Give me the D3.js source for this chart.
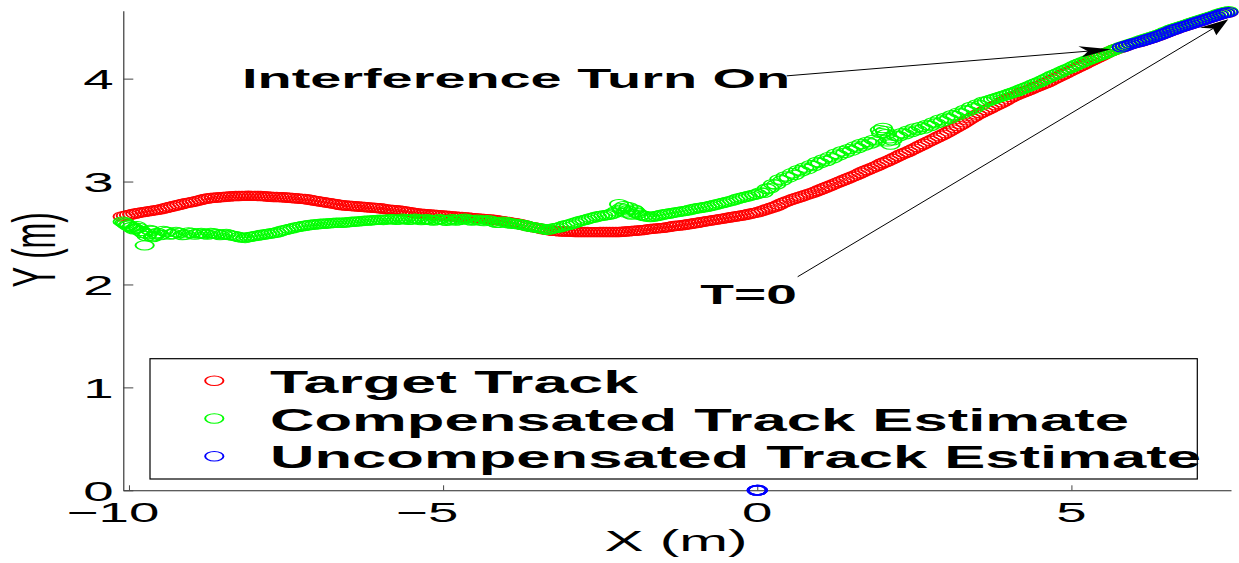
<!DOCTYPE html>
<html>
<head>
<meta charset="utf-8">
<script src="https://cdn.jsdelivr.net/npm/d3@7"></script>
<style>
  body { margin: 0; background: #fff; }
  svg { display: block; }
  text { font-family: "Liberation Sans", Arial, Helvetica, sans-serif; fill: #000; }
</style>
</head>
<body>
<svg id="chart" width="1239" height="563"></svg>
<script>
// ---- Track data (X, Y in metres) ----
const targetTrack = [
  [-10.1,2.66],[-10.05,2.667],[-10.0,2.675],[-9.95,2.682],[-9.9,2.69],[-9.85,2.695],[-9.8,2.70],[-9.75,2.705],[-9.7,2.71],[-9.65,2.715],
  [-9.6,2.72],[-9.55,2.725],[-9.5,2.73],[-9.45,2.737],[-9.4,2.745],[-9.35,2.752],[-9.3,2.76],[-9.25,2.767],[-9.2,2.775],[-9.15,2.782],
  [-9.1,2.79],[-9.05,2.795],[-9.0,2.80],[-8.95,2.807],[-8.9,2.815],[-8.85,2.822],[-8.8,2.83],[-8.75,2.835],[-8.7,2.84],[-8.65,2.843],
  [-8.6,2.845],[-8.55,2.848],[-8.5,2.85],[-8.45,2.853],[-8.4,2.855],[-8.35,2.858],[-8.3,2.86],[-8.25,2.86],[-8.2,2.861],[-8.15,2.861],
  [-8.1,2.862],[-8.05,2.861],[-8.0,2.861],[-7.95,2.86],[-7.9,2.86],[-7.85,2.858],[-7.8,2.855],[-7.75,2.852],[-7.7,2.85],[-7.65,2.85],
  [-7.6,2.849],[-7.55,2.847],[-7.5,2.845],[-7.45,2.842],[-7.4,2.84],[-7.35,2.837],[-7.3,2.835],[-7.25,2.832],[-7.2,2.83],[-7.15,2.825],
  [-7.1,2.82],[-7.05,2.815],[-7.0,2.81],[-6.95,2.805],[-6.9,2.80],[-6.85,2.795],[-6.8,2.79],[-6.75,2.785],[-6.7,2.78],[-6.65,2.775],
  [-6.6,2.77],[-6.55,2.767],[-6.5,2.765],[-6.45,2.762],[-6.4,2.76],[-6.35,2.757],[-6.3,2.755],[-6.25,2.752],[-6.2,2.75],[-6.15,2.747],
  [-6.1,2.745],[-6.05,2.742],[-6.0,2.74],[-5.95,2.735],[-5.9,2.73],[-5.85,2.727],[-5.8,2.725],[-5.75,2.722],[-5.7,2.72],[-5.65,2.715],
  [-5.6,2.71],[-5.55,2.705],[-5.5,2.70],[-5.45,2.695],[-5.4,2.69],[-5.35,2.687],[-5.3,2.685],[-5.25,2.682],[-5.2,2.68],[-5.15,2.677],
  [-5.1,2.675],[-5.05,2.672],[-5.0,2.67],[-4.95,2.667],[-4.9,2.665],[-4.85,2.662],[-4.8,2.66],[-4.75,2.657],[-4.7,2.655],[-4.65,2.652],
  [-4.6,2.65],[-4.55,2.647],[-4.5,2.645],[-4.45,2.642],[-4.4,2.64],[-4.35,2.637],[-4.3,2.635],[-4.25,2.632],[-4.2,2.63],[-4.15,2.625],
  [-4.1,2.62],[-4.05,2.615],[-4.0,2.61],[-3.95,2.605],[-3.9,2.60],[-3.85,2.595],[-3.8,2.59],[-3.75,2.582],[-3.7,2.575],[-3.65,2.567],
  [-3.6,2.56],[-3.55,2.555],[-3.5,2.55],[-3.45,2.542],[-3.4,2.535],[-3.35,2.53],[-3.3,2.525],[-3.25,2.522],[-3.2,2.52],[-3.15,2.517],
  [-3.1,2.515],[-3.05,2.515],[-3.0,2.515],[-2.95,2.512],[-2.9,2.51],[-2.85,2.51],[-2.8,2.51],[-2.75,2.51],[-2.7,2.51],[-2.65,2.509],
  [-2.6,2.509],[-2.55,2.509],[-2.5,2.51],[-2.45,2.51],[-2.4,2.51],[-2.35,2.51],[-2.3,2.51],[-2.25,2.51],[-2.2,2.51],[-2.15,2.512],
  [-2.1,2.515],[-2.05,2.517],[-2.0,2.52],[-1.95,2.522],[-1.9,2.525],[-1.85,2.527],[-1.8,2.53],[-1.75,2.535],[-1.7,2.54],[-1.65,2.542],
  [-1.6,2.545],[-1.55,2.547],[-1.5,2.55],[-1.45,2.555],[-1.4,2.56],[-1.35,2.565],[-1.3,2.57],[-1.25,2.572],[-1.2,2.575],[-1.15,2.58],
  [-1.1,2.585],[-1.05,2.59],[-1.0,2.595],[-0.95,2.60],[-0.9,2.605],[-0.85,2.61],[-0.8,2.615],[-0.75,2.62],[-0.7,2.625],[-0.65,2.63],
  [-0.6,2.635],[-0.55,2.64],[-0.5,2.645],[-0.45,2.65],[-0.4,2.655],[-0.35,2.66],[-0.3,2.665],[-0.25,2.67],[-0.2,2.675],[-0.15,2.682],
  [-0.1,2.69],[-0.05,2.695],[0.0,2.70],[0.05,2.71],[0.1,2.72],[0.15,2.73],[0.2,2.74],[0.25,2.75],[0.3,2.76],[0.35,2.775],
  [0.4,2.79],[0.45,2.802],[0.5,2.815],[0.55,2.825],[0.6,2.835],[0.65,2.845],[0.7,2.855],[0.75,2.865],[0.8,2.875],[0.85,2.885],
  [0.9,2.895],[0.95,2.907],[1.0,2.92],[1.05,2.932],[1.1,2.945],[1.15,2.957],[1.2,2.97],[1.25,2.982],[1.3,2.995],[1.35,3.007],
  [1.4,3.02],[1.45,3.032],[1.5,3.045],[1.55,3.057],[1.6,3.07],[1.65,3.085],[1.7,3.10],[1.75,3.112],[1.8,3.125],[1.85,3.137],
  [1.9,3.15],[1.95,3.165],[2.0,3.18],[2.05,3.192],[2.1,3.205],[2.15,3.22],[2.2,3.235],[2.25,3.25],[2.3,3.265],[2.35,3.277],
  [2.4,3.29],[2.45,3.305],[2.5,3.32],[2.55,3.335],[2.6,3.35],[2.65,3.365],[2.7,3.38],[2.75,3.395],[2.8,3.41],[2.85,3.425],
  [2.9,3.44],[2.95,3.455],[3.0,3.47],[3.05,3.487],[3.1,3.505],[3.15,3.522],[3.2,3.54],[3.25,3.557],[3.3,3.575],[3.35,3.595],
  [3.4,3.615],[3.45,3.632],[3.5,3.65],[3.55,3.665],[3.6,3.68],[3.65,3.695],[3.7,3.71],[3.75,3.725],[3.8,3.74],[3.85,3.755],
  [3.9,3.77],[3.95,3.787],[4.0,3.805],[4.05,3.82],[4.1,3.835],[4.15,3.847],[4.2,3.86],[4.25,3.872],[4.3,3.885],[4.35,3.897],
  [4.4,3.91],[4.45,3.922],[4.5,3.935],[4.55,3.947],[4.6,3.96],[4.65,3.975],[4.7,3.99],[4.75,4.005],[4.8,4.02],[4.85,4.035],
  [4.9,4.05],[4.95,4.065],[5.0,4.08],[5.05,4.095],[5.1,4.11],[5.15,4.125],[5.2,4.14],[5.25,4.155],[5.3,4.17],[5.35,4.185],
  [5.4,4.20],[5.45,4.215],[5.5,4.23],[5.55,4.245],[5.6,4.26],[5.65,4.272],[5.7,4.285],[5.75,4.295],[5.8,4.305],[5.85,4.315],
  [5.9,4.325],[5.95,4.335],[6.0,4.345],[6.05,4.352],[6.1,4.36],[6.15,4.37],[6.2,4.38],[6.25,4.39],[6.3,4.40],[6.35,4.41],
  [6.4,4.42],[6.45,4.432],[6.5,4.445],[6.55,4.457],[6.6,4.47],[6.65,4.48],[6.7,4.49],[6.75,4.50],[6.8,4.51],[6.85,4.52],
  [6.9,4.53],[6.95,4.54],[7.0,4.55],[7.05,4.56],[7.1,4.57],[7.15,4.58],[7.2,4.59],[7.25,4.60],[7.3,4.61],[7.35,4.62],
  [7.4,4.63],[7.45,4.638],[7.5,4.645]
];

const compensatedTrack = [
  [-10.1,2.61],[-10.07,2.60],[-10.05,2.59],[-10.02,2.575],[-10.0,2.57],[-9.97,2.555],[-9.95,2.56],[-9.92,2.535],[-9.9,2.54],[-9.87,2.565],
  [-9.85,2.55],[-9.82,2.52],[-9.8,2.52],[-9.77,2.50],[-9.75,2.38],[-9.72,2.47],[-9.7,2.49],[-9.67,2.53],[-9.65,2.52],[-9.62,2.46],
  [-9.6,2.47],[-9.57,2.49],[-9.55,2.50],[-9.5,2.48],[-9.45,2.52],[-9.4,2.51],[-9.35,2.485],[-9.3,2.49],[-9.25,2.51],[-9.2,2.50],
  [-9.15,2.48],[-9.1,2.485],[-9.05,2.505],[-9.0,2.50],[-8.95,2.485],[-8.9,2.495],[-8.85,2.50],[-8.8,2.49],[-8.75,2.485],[-8.7,2.50],
  [-8.65,2.495],[-8.6,2.49],[-8.55,2.48],[-8.5,2.485],[-8.45,2.49],[-8.4,2.48],[-8.35,2.475],[-8.3,2.47],[-8.25,2.46],[-8.2,2.455],
  [-8.15,2.452],[-8.1,2.46],[-8.05,2.465],[-8.0,2.47],[-7.95,2.475],[-7.9,2.48],[-7.85,2.485],[-7.8,2.49],[-7.75,2.495],[-7.7,2.50],
  [-7.65,2.505],[-7.6,2.515],[-7.55,2.525],[-7.5,2.53],[-7.45,2.54],[-7.4,2.545],[-7.35,2.555],[-7.3,2.56],[-7.25,2.565],[-7.2,2.57],
  [-7.15,2.575],[-7.1,2.58],[-7.05,2.582],[-7.0,2.585],[-6.95,2.59],[-6.9,2.59],[-6.85,2.593],[-6.8,2.595],[-6.75,2.598],[-6.7,2.60],
  [-6.65,2.60],[-6.6,2.60],[-6.55,2.603],[-6.5,2.605],[-6.45,2.61],[-6.4,2.61],[-6.35,2.613],[-6.3,2.615],[-6.25,2.62],[-6.2,2.62],
  [-6.15,2.622],[-6.1,2.625],[-6.05,2.628],[-6.0,2.63],[-5.95,2.627],[-5.9,2.63],[-5.85,2.635],[-5.8,2.635],[-5.75,2.628],[-5.7,2.63],
  [-5.65,2.638],[-5.6,2.635],[-5.55,2.628],[-5.5,2.63],[-5.45,2.64],[-5.4,2.635],[-5.35,2.625],[-5.3,2.63],[-5.25,2.635],[-5.2,2.625],
  [-5.15,2.62],[-5.1,2.63],[-5.05,2.635],[-5.0,2.625],[-4.95,2.618],[-4.9,2.63],[-4.85,2.635],[-4.8,2.62],[-4.75,2.625],[-4.7,2.635],
  [-4.65,2.64],[-4.6,2.63],[-4.55,2.62],[-4.5,2.625],[-4.45,2.63],[-4.4,2.62],[-4.35,2.615],[-4.3,2.625],[-4.25,2.62],[-4.2,2.61],
  [-4.15,2.60],[-4.1,2.60],[-4.05,2.61],[-4.0,2.605],[-3.95,2.595],[-3.9,2.59],[-3.85,2.59],[-3.8,2.585],[-3.75,2.58],[-3.7,2.575],
  [-3.65,2.565],[-3.6,2.56],[-3.55,2.555],[-3.5,2.55],[-3.45,2.545],[-3.4,2.54],[-3.35,2.53],[-3.3,2.535],[-3.25,2.545],[-3.2,2.55],
  [-3.15,2.555],[-3.1,2.565],[-3.05,2.575],[-3.0,2.58],[-2.95,2.59],[-2.9,2.60],[-2.85,2.61],[-2.8,2.62],[-2.75,2.625],[-2.7,2.635],
  [-2.65,2.645],[-2.6,2.65],[-2.55,2.66],[-2.5,2.665],[-2.45,2.67],[-2.4,2.675],[-2.35,2.68],[-2.3,2.69],[-2.25,2.71],[-2.2,2.78],
  [-2.17,2.74],[-2.15,2.73],[-2.12,2.76],[-2.1,2.70],[-2.07,2.72],[-2.05,2.75],[-2.02,2.69],[-2.0,2.68],[-1.97,2.73],[-1.95,2.72],
  [-1.92,2.70],[-1.9,2.69],[-1.85,2.675],[-1.8,2.665],[-1.75,2.66],[-1.7,2.655],[-1.65,2.66],[-1.6,2.665],[-1.55,2.672],[-1.5,2.68],
  [-1.45,2.685],[-1.4,2.69],[-1.35,2.695],[-1.3,2.70],[-1.25,2.705],[-1.2,2.71],[-1.15,2.715],[-1.1,2.72],[-1.05,2.728],[-1.0,2.735],
  [-0.95,2.74],[-0.9,2.745],[-0.85,2.75],[-0.8,2.755],[-0.75,2.762],[-0.7,2.77],[-0.65,2.777],[-0.6,2.785],[-0.55,2.792],[-0.5,2.80],
  [-0.45,2.807],[-0.4,2.815],[-0.35,2.825],[-0.3,2.835],[-0.25,2.842],[-0.2,2.85],[-0.15,2.857],[-0.1,2.865],[-0.05,2.872],[0.0,2.88],
  [0.05,2.895],[0.1,2.89],[0.15,2.93],[0.2,2.935],[0.25,2.975],[0.3,2.97],[0.35,3.02],[0.4,3.01],[0.45,3.05],[0.5,3.04],
  [0.55,3.08],[0.6,3.065],[0.65,3.11],[0.7,3.10],[0.75,3.135],[0.8,3.12],[0.85,3.16],[0.9,3.15],[0.95,3.19],[1.0,3.18],
  [1.05,3.215],[1.1,3.20],[1.15,3.24],[1.2,3.225],[1.25,3.27],[1.3,3.255],[1.35,3.295],[1.4,3.28],[1.45,3.315],[1.5,3.30],
  [1.55,3.34],[1.6,3.325],[1.65,3.365],[1.7,3.35],[1.75,3.385],[1.8,3.37],[1.85,3.405],[1.9,3.39],[1.95,3.50],[1.97,3.47],
  [2.0,3.52],[2.03,3.49],[2.05,3.46],[2.07,3.39],[2.1,3.42],[2.12,3.36],[2.15,3.40],[2.2,3.445],[2.25,3.44],[2.3,3.47],
  [2.35,3.46],[2.4,3.495],[2.45,3.48],[2.5,3.515],[2.55,3.50],[2.6,3.53],[2.65,3.515],[2.7,3.55],[2.75,3.54],[2.8,3.575],
  [2.85,3.565],[2.9,3.60],[2.95,3.585],[3.0,3.62],[3.05,3.61],[3.1,3.645],[3.15,3.635],[3.2,3.67],[3.25,3.66],[3.3,3.695],
  [3.35,3.685],[3.4,3.725],[3.45,3.71],[3.5,3.75],[3.55,3.74],[3.6,3.775],[3.65,3.777],[3.7,3.79],[3.75,3.80],[3.8,3.81],
  [3.85,3.82],[3.9,3.83],[3.95,3.84],[4.0,3.85],[4.05,3.86],[4.1,3.87],[4.15,3.882],[4.2,3.895],[4.25,3.907],[4.3,3.92],
  [4.35,3.932],[4.4,3.945],[4.45,3.957],[4.5,3.97],[4.55,3.985],[4.6,4.00],[4.65,4.015],[4.7,4.03],[4.75,4.042],[4.8,4.055],
  [4.85,4.07],[4.9,4.085],[4.95,4.097],[5.0,4.11],[5.05,4.125],[5.1,4.14],[5.15,4.152],[5.2,4.165],[5.25,4.177],[5.3,4.19],
  [5.35,4.202],[5.4,4.215],[5.45,4.225],[5.5,4.235],[5.55,4.247],[5.6,4.26],[5.65,4.272],[5.7,4.285],[5.75,4.297],[5.8,4.31],
  [5.85,4.32],[5.9,4.33],[5.95,4.34],[6.0,4.35],[6.05,4.36],[6.1,4.37],[6.15,4.38],[6.2,4.39],[6.25,4.40],[6.3,4.41],
  [6.35,4.42],[6.4,4.43],[6.45,4.442],[6.5,4.455],[6.55,4.467],[6.6,4.48],[6.65,4.49],[6.7,4.50],[6.75,4.51],[6.8,4.52],
  [6.85,4.53],[6.9,4.54],[6.95,4.55],[7.0,4.56],[7.05,4.57],[7.1,4.58],[7.15,4.59],[7.2,4.60],[7.25,4.61],[7.3,4.62],
  [7.35,4.63],[7.4,4.64],[7.45,4.648],[7.5,4.655]
];

const uncompensatedTrack = [
  [0,0],[0,0],[0,0],
  [5.8,4.305],[5.85,4.315],[5.9,4.325],[5.95,4.335],[6.0,4.345],[6.05,4.352],[6.1,4.36],[6.15,4.37],[6.2,4.38],[6.25,4.39],
  [6.3,4.40],[6.35,4.41],[6.4,4.42],[6.45,4.432],[6.5,4.445],[6.55,4.457],[6.6,4.47],[6.65,4.48],[6.7,4.49],[6.75,4.50],
  [6.8,4.51],[6.85,4.52],[6.9,4.53],[6.95,4.54],[7.0,4.55],[7.05,4.56],[7.1,4.57],[7.15,4.58],[7.2,4.59],[7.25,4.60],
  [7.3,4.61],[7.35,4.62],[7.4,4.63],[7.45,4.638],[7.5,4.645]
];

const seriesNames = ["Target Track", "Compensated Track Estimate", "Uncompensated Track Estimate"];
const seriesColors = ["#ff0000", "#00ff00", "#0000ff"];
const xTicks = [-10, -5, 0, 5];
const yTicks = [0, 1, 2, 3, 4];
const xLabel = "X (m)";
const yLabel = "Y (m)";

// annotation text anchors and arrows, in data units
const annotations = [
  { text: "Interference Turn On", at: [-8.2, 3.906], from: [0.468, 4.027], to: [5.63, 4.285] },
  { text: "T=0", at: [-0.906, 1.81], from: [0.643, 2.075], to: [7.497, 4.576] }
];

// ---- Layout ----
const SX = 1.95;            // the figure is stretched horizontally
const svg = d3.select("#chart");
const x = d3.scaleLinear().domain([-10.09, 7.54]).range([123.3, 1231]);
const y = d3.scaleLinear().domain([0, 4.66]).range([490.3, 10.7]);
const axisColor = "#262626";

// stretched text helper; len = rendered width in page pixels
function sText(parent, px, py, str, opts) {
  const g = parent.append("g").attr("transform", `translate(${px},${py}) scale(${SX},1)` + (opts.rotate ? ` rotate(${opts.rotate})` : ""));
  const t = g.append("text")
    .attr("x", opts.dx || 0)
    .attr("text-anchor", opts.anchor || "start")
    .attr("font-size", opts.size)
    .attr("font-weight", opts.bold ? "bold" : "normal")
    .text(str);
  if (opts.len) t.attr("textLength", opts.len / SX).attr("lengthAdjust", "spacingAndGlyphs");
  return t;
}

// ---- Axes ----
const gx = svg.append("g")
  .attr("transform", `translate(0,${y(0)})`)
  .call(d3.axisBottom(x).tickValues(xTicks).tickSizeInner(-5).tickSizeOuter(0).tickFormat(""));
const gy = svg.append("g")
  .attr("transform", `translate(${x.range()[0]},0)`)
  .call(d3.axisLeft(y).tickValues(yTicks).tickSizeInner(-10).tickSizeOuter(0).tickFormat(""));
[gx, gy].forEach(g => {
  g.select(".domain").attr("stroke", axisColor).attr("stroke-width", 1.1);
  g.selectAll(".tick line").attr("stroke", "#444").attr("stroke-width", 1);
});

const tickFont = 28;
xTicks.forEach(v => {
  const digits = String(Math.abs(v)).length;
  const label = (v < 0 ? "\u2212" : "") + Math.abs(v);
  // digits centred on the tick, minus sign hanging to the left
  sText(svg, x(v), y(0) + 31.4, label, { size: tickFont, anchor: "end", dx: digits * 0.556 * tickFont / 2 });
});
yTicks.forEach(v => {
  sText(svg, 113.5, y(v) + 10.5, String(v), { size: tickFont, anchor: "end" });
});

sText(svg, 676, 550.7, xLabel, { size: 30, anchor: "middle" });
sText(svg, 55, 250, yLabel, { size: 31, anchor: "middle", rotate: -90 });

// ---- Tracks (circle markers, stretched with the figure) ----
const markR = 4.7;
const tracks = [targetTrack, compensatedTrack, uncompensatedTrack];
const markLayer = svg.append("g").attr("transform", `scale(${SX},1)`);
tracks.forEach((pts, i) => {
  markLayer.append("g")
    .selectAll("circle")
    .data(pts)
    .join("circle")
    .attr("cx", d => x(d[0]) / SX)
    .attr("cy", d => y(d[1]))
    .attr("r", markR)
    .attr("fill", "none")
    .attr("stroke", seriesColors[i])
    .attr("stroke-width", d => (d[0] === 0 && d[1] === 0) ? 1.6 : 1);
});

// ---- Legend ----
const legendWidths = [368, 859, 931];
const legend = svg.append("g");
legend.append("rect")
  .attr("x", 150).attr("y", 358.7)
  .attr("width", 1047.3).attr("height", 120.3)
  .attr("fill", "#fff").attr("stroke", "#000").attr("stroke-width", 1.2);
const legMarks = legend.append("g").attr("transform", `scale(${SX},1)`);
seriesNames.forEach((name, i) => {
  const rowY = 392.7 + i * 37.8;
  legMarks.append("circle")
    .attr("cx", 214.3 / SX).attr("cy", rowY - 12)
    .attr("r", markR)
    .attr("fill", "none").attr("stroke", seriesColors[i]).attr("stroke-width", 1);
  sText(legend, 270, rowY, name, { size: 31.3, bold: true, len: legendWidths[i] });
});

// ---- Annotations ----
const annWidths = [548, 96.5];
function arrowHead(x0, y0, x1, y1) {
  const dx = (x1 - x0) / SX, dy = y1 - y0, len = Math.hypot(dx, dy);
  const ux = dx / len, uy = dy / len, nx = -uy, ny = ux;
  const L = 16, Wd = 5.6, N = 12;
  const bx = -L * ux, by = -L * uy;
  const pts = [[0, 0], [bx + Wd * nx, by + Wd * ny], [-N * ux, -N * uy], [bx - Wd * nx, by - Wd * ny]];
  return pts.map(p => [x1 + p[0] * SX, y1 + p[1]]);
}
const annLayer = svg.append("g");
annotations.forEach((a, i) => {
  const x0 = x(a.from[0]), y0 = y(a.from[1]), x1 = x(a.to[0]), y1 = y(a.to[1]);
  const head = arrowHead(x0, y0, x1, y1);
  annLayer.append("line")
    .attr("x1", x0).attr("y1", y0).attr("x2", head[2][0]).attr("y2", head[2][1])
    .attr("stroke", "#000").attr("stroke-width", 1);
  annLayer.append("path")
    .attr("d", "M" + head.map(p => p.join(",")).join("L") + "Z")
    .attr("fill", "#000");
  sText(annLayer, x(a.at[0]), y(a.at[1]), a.text, { size: 28, bold: true, len: annWidths[i] });
});
</script>
</body>
</html>
